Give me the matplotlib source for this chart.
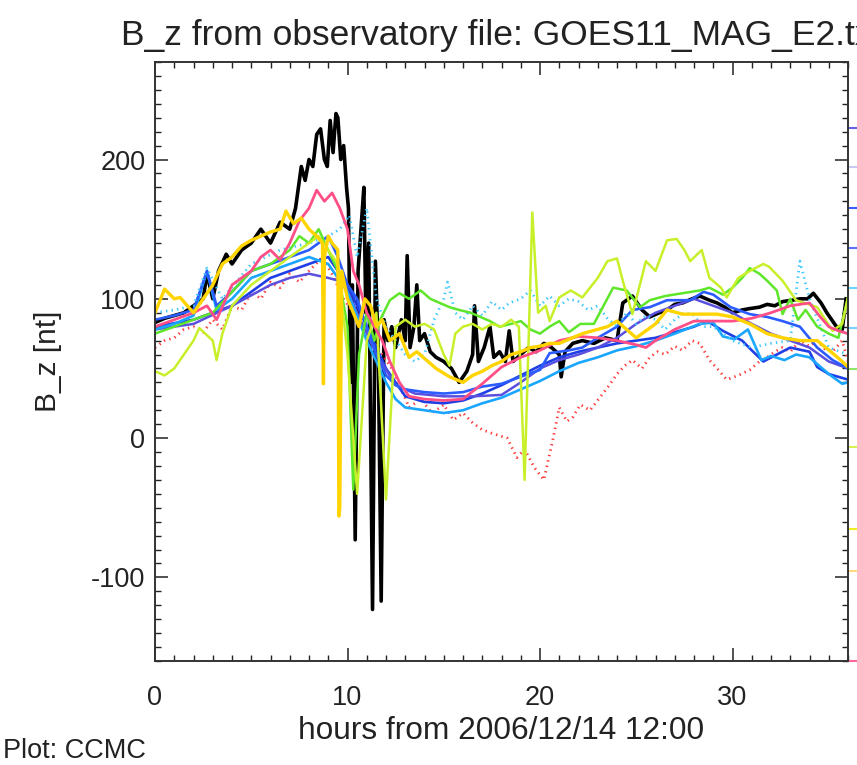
"""B_z at GOES11 from observatory file vs. model runs (CCMC style IDL plot)."""

import matplotlib

matplotlib.use("Agg")
import matplotlib.pyplot as plt
from matplotlib.ticker import MultipleLocator

plt.rcParams["font.family"] = ["Liberation Sans", "DejaVu Sans"]
plt.rcParams["axes.unicode_minus"] = False

INK = "#222222"

# observed GOES11 B_z (black)
obs_t = [0, 0.5, 1, 1.5, 2, 2.5, 2.7, 3, 3.3, 3.7, 4, 4.5, 5, 5.5, 6, 6.5, 7, 7.3, 7.6,
         7.8, 8.0, 8.2, 8.4, 8.6, 8.8, 8.95, 9.1, 9.25, 9.4, 9.5, 9.65, 9.8, 9.95, 10.05,
         10.15, 10.25, 10.4, 10.55, 10.7, 10.85, 10.95, 11.1, 11.3, 11.45, 11.6, 11.75,
         11.9, 12.1, 12.3, 12.5, 12.8, 13.0, 13.1, 13.25, 13.45, 13.6, 13.75, 14.0, 14.3,
         14.6, 15.0, 15.4, 15.8, 16.2, 16.5, 16.6, 16.8, 17.1, 17.4, 17.6, 17.9, 18.2,
         18.4, 18.6, 19.0, 19.4, 19.8, 20.2, 20.6, 21.0, 21.1, 21.3, 21.7, 22.2, 22.8,
         23.4, 24.0, 24.3, 24.8, 25.3, 25.7, 26.2, 26.6, 27.0, 27.4, 27.9, 28.3, 28.8,
         29.2, 29.6, 30.0, 30.5, 30.9, 31.4, 31.8, 32.2, 32.6, 33.1, 33.5, 33.9, 34.2,
         34.6, 34.9, 35.2, 35.4, 35.7, 35.9]
obs_bz = [83, 86, 88, 90, 95, 100, 118, 100, 120, 132, 125, 135, 140, 150, 140, 155, 150,
          165, 195, 185, 200, 195, 218, 222, 200, 195, 228, 205, 233, 230, 200, 210, 180,
          165, 40, 110, -73, 120, 150, 180, 90, 140, -123, 127, 60, -117, 85, 70, 80, 65,
          85, 70, 131, 65, 80, 110, 70, 75, 62, 58, 55, 50, 40, 48, 60, 95, 55, 65, 80, 58,
          62, 55, 77, 55, 60, 65, 62, 68, 65, 60, 44, 62, 68, 70, 68, 72, 70, 97, 102, 92,
          87, 90, 92, 96, 97, 100, 102, 99, 97, 94, 90, 92, 93, 94, 96, 95, 98, 99, 100,
          100, 104, 97, 90, 84, 80, 78, 100]

# model runs
pink_t = [0, 1, 2, 2.7, 3.2, 4, 5, 5.5, 6, 6.5, 7, 7.5, 8, 8.4, 8.8, 9.2, 9.6, 10.0, 10.3,
          10.6, 11.0, 11.4, 11.8, 12.2, 12.7, 13.2, 14, 15, 16, 17, 18, 19, 20, 21, 22, 23,
          24, 25, 25.5, 26, 27, 28, 29, 30, 31, 32, 33, 34, 34.5, 35, 35.5, 36]
pink_bz = [80, 85, 90, 95, 85, 110, 120, 130, 135, 128, 140, 156, 165, 178, 170, 176, 165,
           150, 120, 110, 90, 80, 70, 55, 40, 30, 28, 27, 28, 39, 51, 58, 63, 70, 73, 72,
           70, 67, 65, 70, 78, 84, 84, 84, 86, 90, 95, 97, 88, 80, 77, 75]

red_t = [0, 0.5, 1, 1.5, 2, 2.5, 3, 3.5, 4, 4.5, 5, 5.5, 6, 6.5, 7, 7.5, 8, 8.7, 9.3, 9.8,
         10.3, 10.8, 11.3, 11.8, 12.3, 12.8, 13.2, 13.8, 14.4, 15.0, 15.5, 16.0, 16.5, 17.0,
         17.6, 18.3, 18.8, 19.2, 19.7, 20.2, 20.7, 21.0, 21.4, 21.7, 22.1, 22.6, 23.1, 23.6,
         24, 24.4, 24.8, 25.3, 25.7, 26.1, 26.5, 27.0, 27.4, 27.9, 28.3, 28.8, 29.2, 29.7,
         30.3, 30.9, 31.4, 31.8, 32.2, 32.6, 33.0, 33.5, 34.0, 34.4, 34.8, 35.2, 35.7, 36]
red_bz = [65, 70, 72, 78, 80, 76, 85, 78, 95, 92, 105, 100, 112, 108, 118, 112, 120, 130,
          115, 100, 90, 80, 70, 60, 50, 35, 22, 28, 18, 24, 13, 18, 11, 6, 3, 0, -14, -8,
          -21, -30, 1, 22, 12, 15, 24, 20, 29, 38, 46, 52, 56, 50, 58, 62, 60, 66, 63, 70,
          68, 56, 50, 42, 45, 49, 55, 58, 62, 65, 62, 70, 66, 70, 64, 62, 70, 55]

blue_t = [0, 1, 2, 2.7, 3.2, 4, 5, 6, 7, 8, 8.5, 9, 9.5, 10, 10.5, 11, 11.5, 12, 12.5, 13,
          14, 15, 16, 17, 18, 19, 20, 20.5, 21.5, 22.2, 23, 24, 24.8, 25.7, 26.6, 27.8,
          28.5, 29, 29.9, 30.9, 31.8, 32.6, 33.5, 34.4, 35.2, 36]
blue_bz = [85, 88, 92, 120, 95, 105, 120, 125, 130, 135, 140, 145, 130, 110, 100, 80, 60,
           45, 38, 35, 33, 32, 33, 37, 39, 44, 49, 61, 63, 65, 72, 80, 92, 94, 99, 99, 105,
           103, 94, 89, 87, 84, 80, 65, 56, 50]

dkblue_t = [0, 2, 4, 6, 8, 9, 10, 11, 12, 13, 14, 15, 16, 17, 18, 19, 20, 21, 22, 23, 24,
            25, 26, 27, 28, 28.7, 29.5, 30.5, 31, 31.6, 32.3, 33, 34, 34.4, 35, 35.5, 36]
dkblue_bz = [80, 85, 95, 115, 125, 130, 110, 80, 50, 30, 26, 25, 27, 32, 38, 45, 52, 58, 62,
             65, 68, 70, 72, 76, 80, 84, 77, 70, 63, 55, 60, 65, 62, 51, 46, 44, 42]

violet_t = [0, 2, 4, 6, 7, 8, 9, 9.8, 10.5, 11.5, 12.5, 13.5, 15, 16.5, 18, 19, 20, 21, 22,
            23, 24, 25, 26, 27, 28, 29, 30, 31, 32, 33, 34, 35, 36]
violet_bz = [78, 82, 95, 110, 115, 118, 115, 112, 90, 60, 38, 32, 30, 30, 31, 40, 50, 56, 60,
             65, 72, 82, 90, 95, 100, 95, 90, 82, 75, 70, 65, 55, 50]

ltblue_t = [0, 1, 2, 2.7, 3.2, 4, 5, 6, 7, 8, 9, 10, 11, 12, 12.5, 13, 14, 15, 16, 17, 18,
            19, 20, 21, 22, 23, 24, 25, 26, 27, 28.3, 29, 29.5, 30.1, 30.8, 31.5, 32, 32.7,
            33.3, 34, 35, 35.7, 36]
ltblue_bz = [78, 82, 88, 120, 92, 100, 115, 120, 125, 130, 125, 105, 70, 40, 28, 22, 20, 18,
             20, 25, 29, 35, 41, 48, 54, 58, 63, 66, 70, 75, 82, 83, 73, 71, 78, 56, 59, 56,
             60, 58, 46, 39, 40]

cyan_t = [0, 1, 2, 2.7, 3.5, 5, 6.5, 8, 9, 9.6, 10.1, 10.5, 11, 11.5, 12, 12.5, 13, 13.5,
          14, 14.5, 15, 15.2, 15.6, 16, 16.5, 17, 17.5, 18, 18.4, 19, 19.5, 20, 20.5, 21,
          21.5, 22, 22.5, 23, 23.5, 24, 24.5, 25, 25.5, 26, 26.5, 27, 27.5, 28, 28.5, 29,
          30, 31, 32, 33, 33.5, 34, 35, 36]
cyan_bz = [90, 92, 95, 122, 100, 125, 135, 140, 145, 150, 160, 130, 165, 100, 80, 70, 60,
           55, 60, 85, 100, 112, 90, 85, 95, 88, 98, 92, 97, 100, 106, 95, 102, 95, 100, 98,
           92, 95, 86, 80, 90, 82, 88, 85, 78, 85, 90, 88, 80, 80, 70, 65, 68, 70, 127, 100,
           65, 60]

green_t = [0, 1, 2, 3, 4, 5, 6, 7, 7.5, 8, 8.5, 9, 9.5, 10, 10.3, 10.6, 11, 11.4, 11.7,
           12.2, 12.7, 13.2, 13.8, 14.3, 14.8, 15.3, 15.8, 16.4, 16.9, 17.4, 17.9, 18.5,
           19.0, 19.5, 20.0, 20.5, 21.0, 21.5, 22.1, 22.8, 23.3, 23.8, 24.5, 25.2, 25.7,
           26.5, 27.4, 28.3, 28.8, 29.5, 30.0, 30.5, 30.9, 31.4, 31.8, 32.3, 32.6, 33.0,
           33.4, 33.8, 34.4, 35, 35.5, 36]
green_bz = [75, 80, 85, 90, 105, 120, 125, 135, 145, 140, 150, 135, 120, 80, -37, 60, 90,
            70, 85, 99, 104, 100, 106, 100, 97, 94, 92, 90, 87, 84, 80, 82, 84, 78, 75, 80,
            84, 76, 82, 82, 95, 108, 106, 94, 99, 102, 104, 106, 108, 103, 108, 115, 122,
            118, 113, 106, 89, 100, 85, 92, 80, 75, 72, 101]

ygreen_t = [0, 0.5, 1, 1.5, 2, 2.3, 3, 3.2, 3.5, 4, 5, 6, 7, 8, 8.5, 9, 9.5, 10, 10.5, 11,
            11.5, 12, 12.5, 13, 13.5, 14, 14.5, 15, 15.3, 15.6, 16, 16.5, 17, 17.5, 18,
            18.5, 18.9, 19.2, 19.6, 19.9, 20.3, 20.5, 21.0, 21.6, 22.2, 23.0, 23.5, 24.0,
            24.3, 24.8, 25.5, 26.0, 26.6, 27.1, 27.5, 27.8, 28.4, 28.8, 29.4, 29.7, 30.3,
            30.9, 31.6, 31.9, 32.6, 33.3, 34.4, 35.2, 35.7, 36]
ygreen_bz = [48, 45, 50, 60, 70, 79, 70, 56, 75, 95, 110, 120, 130, 140, 145, 135, 125, 60,
             -40, 70, 90, -44, 80, 85, 80, 82, 78, 60, 52, 75, 80, 82, 78, 82, 80, 85, 80,
             -30, 162, 90, 95, 84, 101, 106, 101, 115, 127, 129, 113, 89, 127, 120, 142,
             143, 135, 127, 135, 115, 108, 101, 115, 120, 125, 123, 113, 99, 94, 77, 82, 101]

gold_t = [0, 0.5, 1, 1.3, 2, 2.5, 3, 3.5, 4, 4.5, 5, 5.5, 6, 6.5, 6.8, 7.2, 7.6, 8.0, 8.4,
          8.7, 8.75, 8.8, 9.0, 9.2, 9.5, 9.55, 9.6, 9.7, 10.0, 10.3, 10.6, 10.9, 11.2, 11.5,
          11.8, 12.2, 12.7, 13.2, 13.6, 14.1, 14.6, 15.3, 16.0, 16.5, 17.0, 17.5, 18.0,
          18.5, 19.0, 19.5, 20, 20.5, 21, 22.2, 23.5, 24, 25, 26, 26.6, 27.4, 28.3, 29.2,
          30, 30.9, 31.8, 32.6, 33.5, 34.4, 35.2, 35.7, 36]
gold_bz = [90, 107, 100, 101, 90, 100, 110, 125, 130, 138, 142, 145, 148, 150, 163, 154,
           158, 150, 145, 140, 39, 130, 145, 140, 135, -56, -50, 120, 100, 90, 80, 100, 95,
           80, 85, 70, 75, 58, 62, 56, 50, 44, 40, 45, 48, 52, 55, 60, 62, 65, 66, 68, 68,
           75, 80, 84, 72, 82, 92, 89, 89, 89, 87, 82, 75, 72, 70, 70, 61, 55, 51]

# (times, values, colour, linewidth, linestyle) in drawing order
series = [
    (obs_t, obs_bz, "black", 2.6, "-"),
    (red_t, red_bz, "#ff3a3a", 2.0, (0, (0.5, 1.5))),
    (dkblue_t, dkblue_bz, "#1f3fe6", 1.9, "-"),
    (violet_t, violet_bz, "#5a50e0", 1.8, "-"),
    (ltblue_t, ltblue_bz, "#1aa6ff", 1.9, "-"),
    (blue_t, blue_bz, "#2a5cff", 1.9, "-"),
    (cyan_t, cyan_bz, "#3cc8ff", 2.0, (0, (0.5, 1.5))),
    (green_t, green_bz, "#5ee62a", 1.8, "-"),
    (ygreen_t, ygreen_bz, "#c8f02a", 1.8, "-"),
    (pink_t, pink_bz, "#ff4f86", 2.0, "-"),
    (gold_t, gold_bz, "#ffd400", 2.4, "-"),
]

# legend stubs cut off at the right edge (axes-fraction y, colour)
legend_stubs = [(0.889, "#6a60e6"), (0.824, "#c8c8f0"), (0.756, "#3a5cff"), (0.690, "#5a70ff"),
                (0.623, "#6ad6ff"), (0.556, "#7ad0ff"), (0.488, "#8ae86a"), (0.358, "#d8f050"),
                (0.220, "#f0f020"), (0.151, "#ffd880"), (0.0, "#ff6a98")]

fig = plt.figure(figsize=(8.57, 7.65), dpi=100, facecolor="white")
ax = fig.add_axes([155 / 857, 1 - 661 / 765, 693 / 857, 599 / 765])

for t, bz, color, lw, ls in series:
    ax.plot(t, bz, color=color, linewidth=lw, linestyle=ls)

for y, color in legend_stubs:
    ax.plot([1.003, 1.03], [y, y], transform=ax.transAxes, color=color,
            linewidth=1.5, clip_on=False)

ax.set_xlim(0, 36)
ax.set_ylim(-160, 270)
ax.xaxis.set_major_locator(MultipleLocator(10))
ax.xaxis.set_minor_locator(MultipleLocator(1))
ax.yaxis.set_major_locator(MultipleLocator(100))
ax.yaxis.set_minor_locator(MultipleLocator(10))
ax.tick_params(which="both", direction="in", top=True, right=True, colors=INK,
               labelsize=19.5)
ax.tick_params(which="major", length=9.5, width=1.1)
ax.tick_params(which="minor", length=4.5, width=1.0)
ax.tick_params(axis="x", pad=17)
ax.tick_params(axis="y", pad=7)
for spine in ax.spines.values():
    spine.set_linewidth(1.4)
    spine.set_color("#333333")

ax.set_title("B_z from observatory file: GOES11_MAG_E2.txt", fontsize=25.5,
             color=INK, pad=12)
ax.set_xlabel("hours from 2006/12/14 12:00", fontsize=22.8, color=INK, labelpad=4)
ax.set_ylabel("B_z [nt]", fontsize=21.5, color=INK)
ax.yaxis.set_label_coords(-0.134, 0.5)

fig.text(3 / 857, 1 / 765, "Plot: CCMC", fontsize=19.5, color=INK, ha="left", va="bottom")

fig.savefig("out.png", dpi=100, facecolor="white")
